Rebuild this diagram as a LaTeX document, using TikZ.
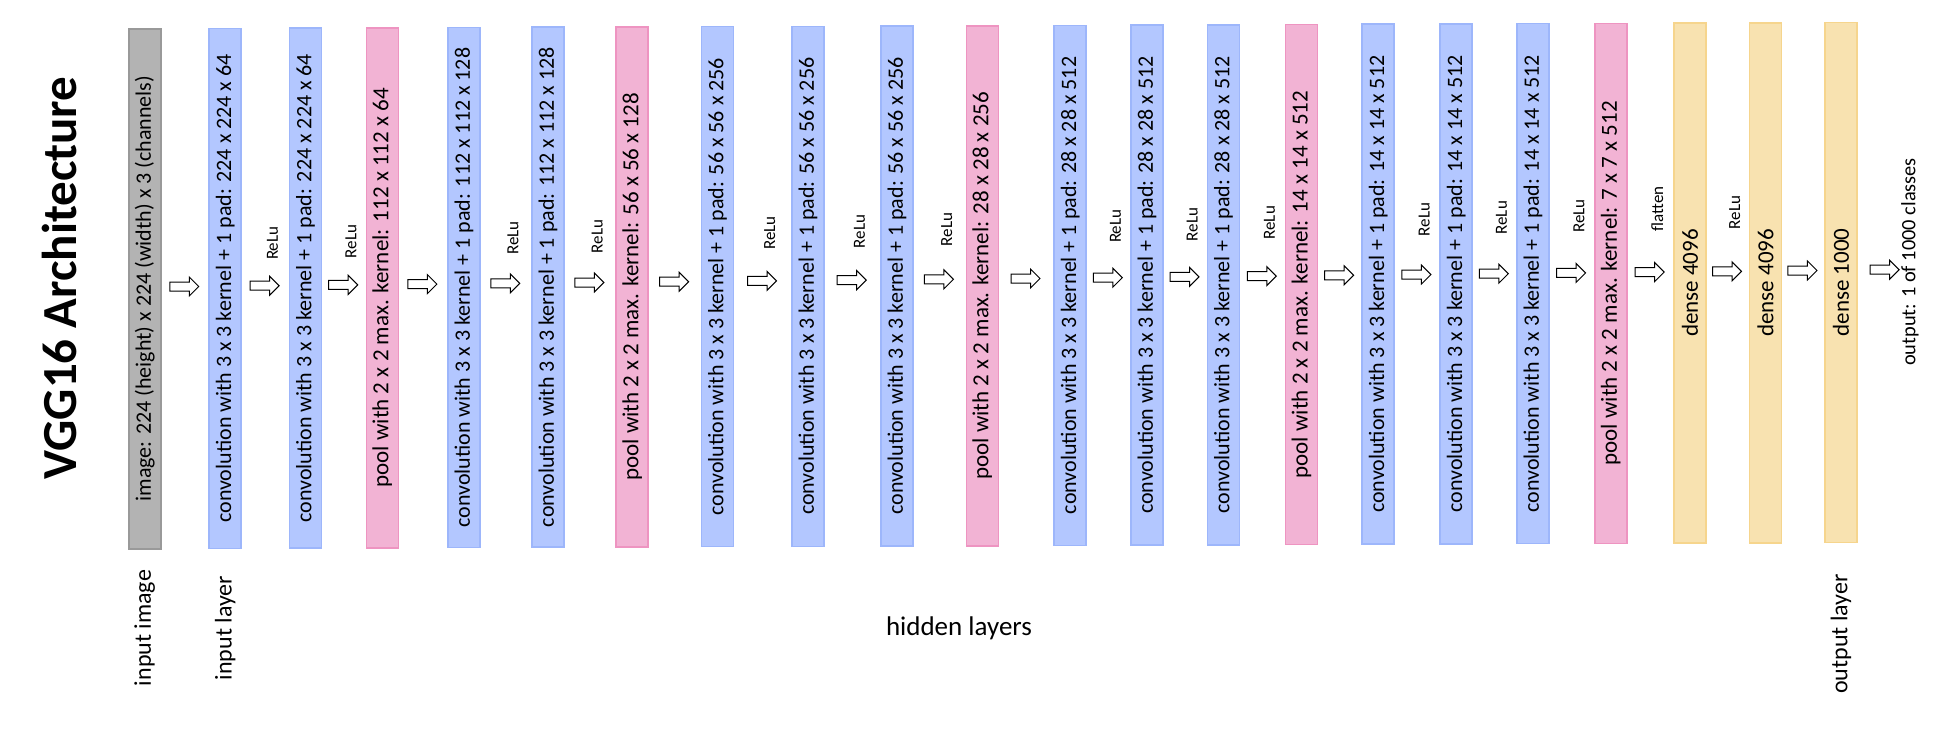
\documentclass[tikz,border=0pt]{standalone}
\usepackage{fontspec}
\setmainfont{Carlito}
\usetikzlibrary{shapes.arrows,calc}

\definecolor{imgcol}{HTML}{B3B3B3}
\definecolor{imgline}{HTML}{999999}
\definecolor{convcol}{HTML}{B3C7FF}
\definecolor{convline}{HTML}{9DB6FB}
\definecolor{poolcol}{HTML}{F2B3D4}
\definecolor{poolline}{HTML}{EE94C1}
\definecolor{densecol}{HTML}{F8E2B0}
\definecolor{denseline}{HTML}{F6D58D}

\tikzset{
  layerbox/.style={rotate=90, minimum width=260pt, minimum height=16pt,
                   inner sep=0, line width=0.8pt, font=\fontsize{11}{13}\selectfont},
  imgbox/.style={layerbox, fill=imgcol, draw=imgline},
  convbox/.style={layerbox, fill=convcol, draw=convline},
  poolbox/.style={layerbox, fill=poolcol, draw=poolline, font=\fontsize{11.5}{13}\selectfont},
  densebox/.style={layerbox, fill=densecol, draw=denseline, font=\fontsize{11.5}{13}\selectfont},
  flow arrow/.style={single arrow, draw=black, fill=white, line width=0.5pt,
                     inner xsep=0, inner ysep=2pt, minimum height=14.5pt,
                     single arrow head extend=2.5pt},
  act label/.style={rotate=90, anchor=west, font=\fontsize{8.5}{10}\selectfont},
  side label/.style={rotate=90, font=\fontsize{12}{14}\selectfont},
}

\begin{document}
\begin{tikzpicture}[x=0.5pt, y=-0.5pt]
    % canvas in pixels of the reference, y grows downwards
    \fill[white] (0,0) rectangle (1940,735);
    \useasboundingbox (0,0) rectangle (1940,735);

    % --- title ---
    \node[rotate=90, font=\fontsize{24.5}{28}\selectfont\bfseries] (title) at (59, 278) {VGG16 Architecture};

    % --- layers ---
    \foreach \i/\x/\k/\t in {
      1/144.8/imgbox/{image: 224 (height) x 224 (width) x 3 (channels)},
      2/225.2/convbox/{convolution with 3 x 3 kernel + 1 pad: 224 x 224 x 64},
      3/305.6/convbox/{convolution with 3 x 3 kernel + 1 pad: 224 x 224 x 64},
      4/382.3/poolbox/{pool with 2 x 2 max. kernel: 112 x 112 x 64},
      5/463.9/convbox/{convolution with 3 x 3 kernel + 1 pad: 112 x 112 x 128},
      6/548.1/convbox/{convolution with 3 x 3 kernel + 1 pad: 112 x 112 x 128},
      7/632.2/poolbox/{pool with 2 x 2 max. kernel: 56 x 56 x 128},
      8/717.6/convbox/{convolution with 3 x 3 kernel + 1 pad: 56 x 56 x 256},
      9/807.9/convbox/{convolution with 3 x 3 kernel + 1 pad: 56 x 56 x 256},
      10/897.0/convbox/{convolution with 3 x 3 kernel + 1 pad: 56 x 56 x 256},
      11/982.3/poolbox/{pool with 2 x 2 max. kernel: 28 x 28 x 256},
      12/1070.2/convbox/{convolution with 3 x 3 kernel + 1 pad: 28 x 28 x 512},
      13/1146.9/convbox/{convolution with 3 x 3 kernel + 1 pad: 28 x 28 x 512},
      14/1223.6/convbox/{convolution with 3 x 3 kernel + 1 pad: 28 x 28 x 512},
      15/1301.5/poolbox/{pool with 2 x 2 max. kernel: 14 x 14 x 512},
      16/1378.2/convbox/{convolution with 3 x 3 kernel + 1 pad: 14 x 14 x 512},
      17/1456.2/convbox/{convolution with 3 x 3 kernel + 1 pad: 14 x 14 x 512},
      18/1532.9/convbox/{convolution with 3 x 3 kernel + 1 pad: 14 x 14 x 512},
      19/1610.8/poolbox/{pool with 2 x 2 max. kernel: 7 x 7 x 512},
      20/1690.0/densebox/{dense 4096},
      21/1765.5/densebox/{dense 4096},
      22/1840.9/densebox/{dense 1000}} {
      \pgfmathsetmacro{\yc}{288.7 - 0.3*(\i-1)}
      \node[\k] (l\i) at (\x, \yc) {\t};
    }

    % --- output text ---
    \node[rotate=90, font=\fontsize{10.2}{12}\selectfont] (out) at (1910, 262) {output: 1 of 1000 classes};

    % --- arrows between layers ---
    \foreach \i in {1,...,21} {
      \pgfmathtruncatemacro{\j}{\i+1}
      \pgfmathsetmacro{\ay}{286.5 - 0.8*(\i-1)}
      \coordinate (m\i) at ($(l\i.center)!0.5!(l\j.center) + (-3,0)$);
      \node[flow arrow] (a\i) at (m\i |- 0,\ay) {};
    }
    \coordinate (m22) at ($(l22.center)!0.6!(out.center)$);
    \node[flow arrow] (a22) at (m22 |- 0,269.7) {};

    % --- activation labels ---
    \foreach \i/\s in {2/ReLu, 3/ReLu, 5/ReLu, 6/ReLu, 8/ReLu, 9/ReLu, 10/ReLu,
                       12/ReLu, 13/ReLu, 14/ReLu, 16/ReLu, 17/ReLu, 18/ReLu,
                       19/flatten, 20/ReLu} {
      \pgfmathsetmacro{\ly}{267 - 1.7*(\i-2)}
      \node[act label] (r\i) at ($(a\i.center |- 0,\ly) + (10,0)$) {\s};
    }

    % --- bottom labels ---
    \node[font=\fontsize{13.5}{16}\selectfont] (hid) at (959, 628) {hidden layers};
    \node[side label] (inimg) at (l1 |- hid) {input image};
    \node[side label] (inlay) at (l2 |- hid) {input layer};
    \node[side label] (outlay) at ($(l22 |- hid) + (0,6)$) {output layer};
\end{tikzpicture}
\end{document}
